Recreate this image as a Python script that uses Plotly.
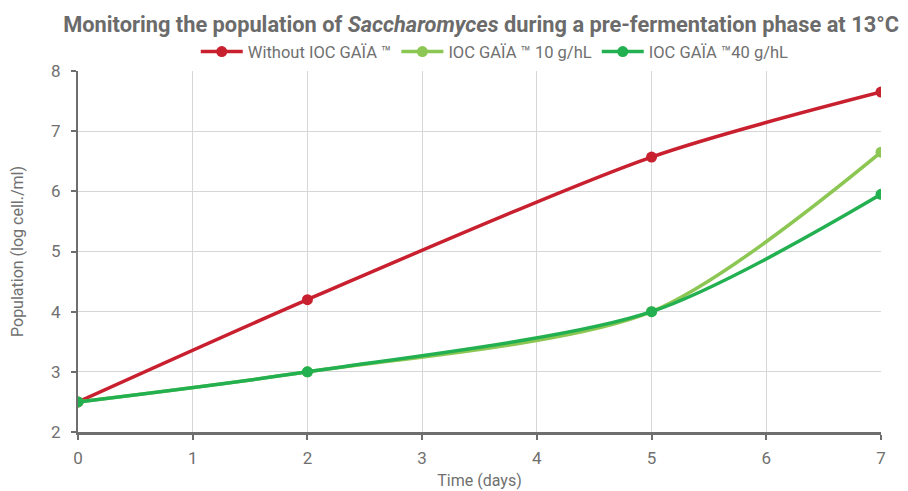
import plotly.graph_objects as go

days = [0, 2, 5, 7]
without_ioc = [2.5, 4.2, 6.57, 7.65]
ioc_10 = [2.5, 3.0, 4.0, 6.65]
ioc_40 = [2.5, 3.0, 4.0, 5.95]
series_names = ["Without IOC GAÏA ™", "IOC GAÏA ™ 10 g/hL", "IOC GAÏA ™40 g/hL"]
colors = ["#C8202F", "#8CC653", "#22B050"]

FONT = "Roboto, sans-serif"
GRAY = "#707070"

fig = go.Figure()
for name, vals, c in zip(series_names, [without_ioc, ioc_10, ioc_40], colors):
    fig.add_trace(go.Scatter(
        x=days, y=vals, name=name, mode="lines+markers",
        line=dict(color=c, width=3.5, shape="spline", smoothing=0.8),
        marker=dict(color=c, size=11),
    ))

fig.update_layout(
    width=908, height=491,
    paper_bgcolor="white", plot_bgcolor="white",
    margin=dict(l=70, r=35, t=63, b=67, autoexpand=False),
    font=dict(family=FONT, color=GRAY, size=15),
    title=dict(
        text="<b>Monitoring the population of <i>Saccharomyces</i> during a pre-fermentation phase at 13°C</b>",
        x=0.521, xanchor="center", y=0.967, yanchor="middle",
        font=dict(family=FONT, size=21.8, color="#6b6b6b"),
    ),
    legend=dict(orientation="h", x=0.519, xanchor="center", y=1.053, yanchor="middle",
                font=dict(family=FONT, size=16.5, color=GRAY), itemwidth=42),
    xaxis=dict(
        range=[0, 7], dtick=1, showgrid=True, gridcolor="#d6d6d6", gridwidth=1,
        showline=True, linecolor="#6e6e6e", linewidth=3, automargin=False,
        ticks="outside", ticklen=5, tickcolor="#6e6e6e", tickwidth=2,
        ticklabelstandoff=4,
        title=dict(text="Time (days)", font=dict(size=16, color=GRAY), standoff=8),
        zeroline=False, tickfont=dict(size=17),
    ),
    yaxis=dict(
        range=[2, 8], dtick=1, showgrid=True, gridcolor="#d6d6d6", gridwidth=1,
        showline=True, linecolor="#6e6e6e", linewidth=2, automargin=False,
        ticks="outside", ticklen=5, tickcolor="#6e6e6e", tickwidth=2,
        ticklabelstandoff=7,
        title=dict(text="Population (log cell./ml)", font=dict(size=16, color=GRAY), standoff=28),
        zeroline=False, tickfont=dict(size=17),
    ),
)

fig.write_html("out.html")
